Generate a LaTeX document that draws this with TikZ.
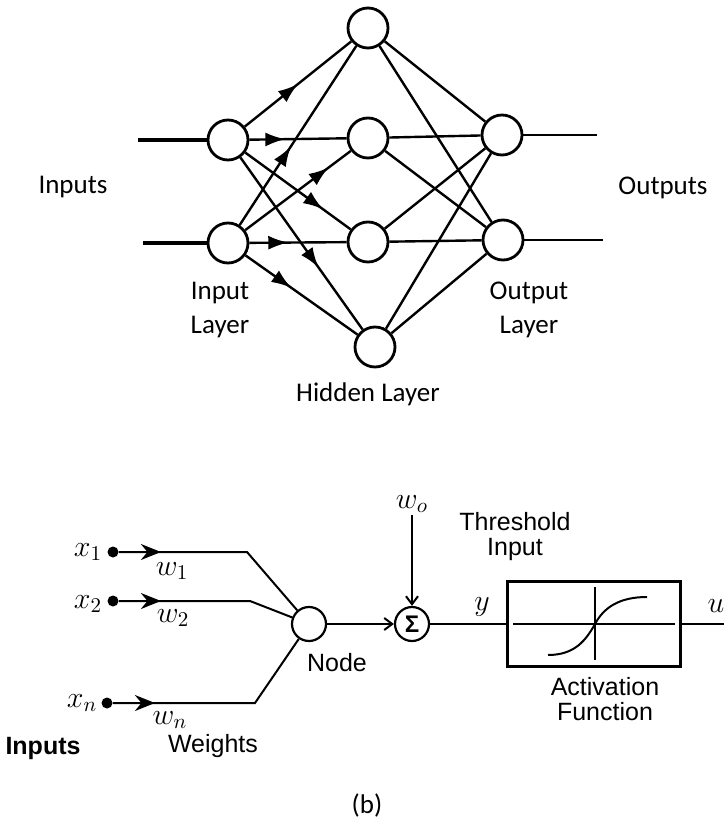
\RequirePackage{fix-cm}
\documentclass[tikz,border=0pt]{standalone}
\usepackage{fontspec}
\setmainfont{Liberation Sans}
\newfontfamily\calib{Carlito}
\usepackage{tikz}
\usetikzlibrary{arrows.meta,positioning,decorations.markings}

\begin{document}
\begin{tikzpicture}[
x=0.5pt, y=-0.5pt,
neuron/.style={draw, circle, line width=1.4pt, minimum size=20pt, inner sep=0pt},
edge/.style={line width=1.2pt},
feed/.style={line width=2pt},
lbl/.style={font=\calib\fontsize{13.5}{17}\selectfont, align=center},
txt/.style={font=\fontsize{12.5}{12.5}\selectfont, align=center},
mth/.style={font=\fontsize{15}{17}\selectfont, inner sep=1pt},
arrat/.style={edge, postaction={decorate}, decoration={markings,
  mark=at position #1 with {\arrow{Latex[length=10pt,width=7pt]}}}},
inarr/.style={line width=1pt, postaction={decorate}, decoration={markings,
  mark=at position 21pt with {\arrow{Stealth[length=10pt,width=8pt]}}}},
vee/.style={line width=1pt, -{Straight Barb[length=4pt,width=6pt]}},
dot/.style={circle, fill, minimum size=5.5pt, inner sep=0pt},
unit/.style={draw, circle, line width=1.1pt, minimum size=17pt, inner sep=0pt}
]
\useasboundingbox (0,0) rectangle (724,823);

% network
\node[neuron] (i1) at (228,140) {};
\node[neuron] (i2) at (228,243) {};
\node[neuron] (h1) at (368,28) {};
\node[neuron] (h2) at (368,138) {};
\node[neuron] (h3) at (368,242) {};
\node[neuron] (h4) at (375,347) {};
\node[neuron] (o1) at (502,135) {};
\node[neuron] (o2) at (503,240) {};
\coordinate (in1) at (138,140);
\coordinate (in2) at (143,243);
\coordinate (out1) at (597,135);
\coordinate (out2) at (603,240);
\draw[feed] (in1)--(i1);
\draw[feed] (in2)--(i2);
\draw[edge] (o1)--(out1);
\draw[edge] (o2)--(out2);
\draw[arrat=0.5] (i1)--(h1);
\draw[arrat=0.37] (i1)--(h2);
\draw[arrat=0.74] (i1)--(h3);
\draw[arrat=0.64] (i1)--(h4);
\draw[arrat=0.44] (i2)--(h1);
\draw[arrat=0.79] (i2)--(h2);
\draw[arrat=0.4] (i2)--(h3);
\draw[arrat=0.41] (i2)--(h4);
\draw[edge] (h1)--(o1);
\draw[edge] (h1)--(o2);
\draw[edge] (h2)--(o1);
\draw[edge] (h2)--(o2);
\draw[edge] (h3)--(o1);
\draw[edge] (h3)--(o2);
\draw[edge] (h4)--(o1);
\draw[edge] (h4)--(o2);
\node[lbl] (inl) at (73,187) {Inputs};
\node[lbl] (outl) at (663,188) {Outputs};
\node[lbl] (ilay) at (220,310) {Input\\Layer};
\node[lbl] (olay) at (529,310) {Output\\Layer};
\node[lbl] (hlay) at (368,394) {Hidden Layer};

% single node
\node[dot] (d1) at (113,552) {};
\node[dot] (d2) at (113,601) {};
\node[dot] (dn) at (107,703) {};
\coordinate (b1) at (247,552);
\coordinate (b2) at (250,601);
\coordinate (bn) at (255,703);
\node[unit] (nd) at (309,624) {};
\node[unit, font=\fontsize{12}{12}\selectfont\bfseries] (sg) at (412,624) {Σ};
\node[draw, line width=1.2pt, minimum width=86.5pt, minimum height=42.5pt] (act) at (594,624) {};
\coordinate (wtop) at (412,515);
\coordinate (uend) at (724,624);
\draw[inarr] (d1)--(b1)--(nd);
\draw[inarr] (d2)--(b2)--(nd);
\draw[inarr] (dn)--(bn)--(nd);
\draw[vee] (nd)--(sg);
\draw[vee] (wtop)--(sg);
\draw[line width=1pt] (sg)--(act);
\draw[line width=1pt] (act)--(uend);
\draw[line width=1pt] (513,624)--(675,624);
\draw[line width=1pt] (595,587)--(595,660);
\draw[line width=1pt] (548,655) .. controls (575,655) and (586,640) .. (595,624)
  .. controls (604,607) and (620,597) .. (647,597);
\node[mth] (x1) at (88,552) {$x_1$};
\node[mth] (x2) at (88,604) {$x_2$};
\node[mth] (xn) at (82,703) {$x_n$};
\node[mth] (w1) at (172,571) {$w_1$};
\node[mth] (w2) at (173,618) {$w_2$};
\node[mth] (wn) at (170,720) {$w_n$};
\node[mth, above=0pt of wtop] (w0) {$w_o$};
\node[mth] (yl) at (482,607) {$y$};
\node[mth] (ul) at (716,606) {$u$};
\node[txt] (ndl) at (337,663) {Node};
\node[txt] (thr) at (515,537) {Threshold\\Input};
\node[txt] (actl) at (605,699) {Activation\\Function};
\node[txt, font=\fontsize{12.5}{12.5}\selectfont\bfseries] (inb) at (43,748) {Inputs};
\node[txt] (wts) at (213,746) {Weights};
\node[lbl] (cap) at (367,805) {(b)};
\end{tikzpicture}
\end{document}
